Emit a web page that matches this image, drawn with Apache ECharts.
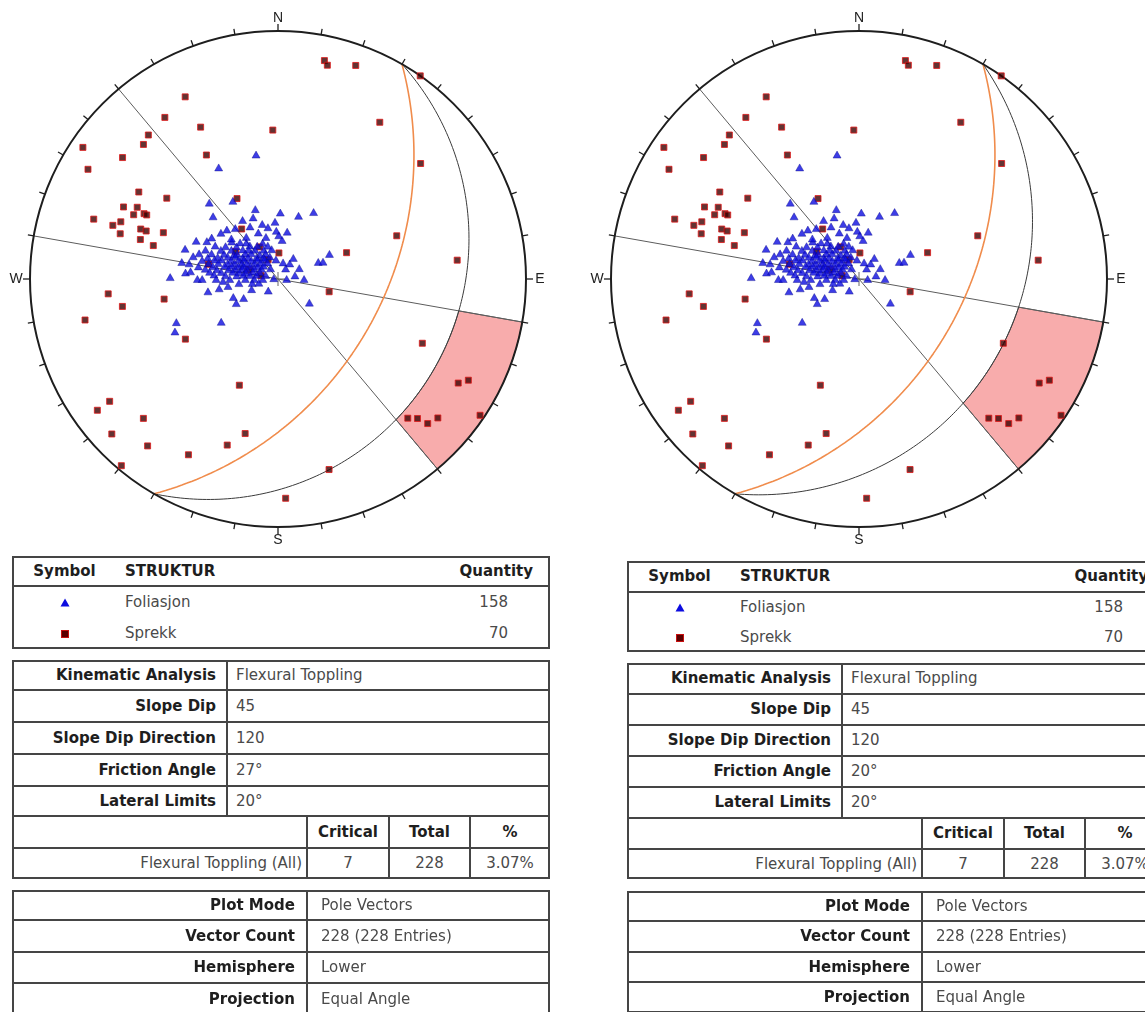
<!DOCTYPE html>
<html>
<head>
<meta charset="utf-8">
<script src="https://cdn.jsdelivr.net/npm/echarts@6/dist/echarts.min.js"></script>
<style>
  html, body { margin: 0; padding: 0; background: #fff; }
  body { position: relative; width: 1145px; height: 1012px; overflow: hidden; }
  #chart { position: absolute; left: 0; top: 0; width: 1145px; height: 1012px; }
  .box { position: absolute; box-sizing: border-box; border: 2px solid #454545; background: #fff; }
  .hl { position: absolute; height: 2px; background: #454545; }
  .vl { position: absolute; width: 2px; background: #454545; }
  .tx { position: absolute; white-space: nowrap; font-family: "DejaVu Sans", sans-serif; font-size: 15px; color: #4a4a4a; }
  .tx.b { font-weight: bold; color: #1e1e1e; }
</style>
</head>
<body>
<div id="chart"></div>
<script>
// Poles (lower hemisphere), [trend°, plunge°]
const foliasjonPoles = [
  [350,36],[332,36],[318,45],[330,50],[342,57],[2,60],[314,50],[338,60],[357,64],[18,60],
  [314,58],[358,68],[11,68],[1,70],[6,72],[302,55],[295,50],[298,54],[288,47],[28,56],
  [64,64],[67,70],[69,68],[271,43],[270,54],[270,56],[260,58],[261,63],[262,67],[248,68],
  [240,68],[241,72],[247,42],[243,40],[233,58],[127,72],[90,86],[281,88],
  [309,63],[314,66],[319,68],[337,72],
  [298,58],[302,62],[308,66],[320,70],[328,72],[343,74],
  [292,55],[297,61],[302,65],[310,69],[315,71],[322,73],[334,75],[348,76],
  [288,53],[291,58],[295,63],[299,67],[302,68],[308,71],[314,73],[323,76],[334,77],
  [285,51],[287,57],[290,61],[294,65],[298,68],[301,71],[306,73],[315,76],[326,78],[340,79],
  [284,55],[287,60],[289,63],[292,67],[296,70],[300,72],[305,75],[314,77],[326,79],[354,81],
  [280,50],[283,58],[285,62],[287,66],[290,69],[293,72],[297,74],[304,77],[313,79],[328,81],[17,82],[37,81],
  [279,54],[281,60],[284,65],[286,68],[288,71],[291,73],[295,76],[302,79],[313,81],
  [278,57],[279,62],[281,67],[283,70],[286,73],[288,75],[294,78],[302,81],[325,84],
  [274,49],[276,59],[277,64],[279,69],[280,72],[282,75],[286,78],[291,81],
  [274,61],[274,66],[275,71],[277,74],[278,77],[281,80],[288,84],[78,82],
  [270,62],[270,68],[270,75],[270,79],[270,83],[90,78],
  [264,72],[261,78],[259,81],
  [309,57],[320,60],[323,66],[337,67],[344,70],[311,62],[332,63],[344,64],[329,59],[349,66],
  [280,47],[275,51],[36,84],[36,78],[63,79],[220,83],[249,77],[268,65]
];
const sprekkPoles = [
  [333,11],[325,13],[333,21],[358,28],[318,14],[315,15],[304,3],[308,13],[330,30],[300,7],
  [302,23],[306,32],[333,50],[295,21],[297,25],[296,28],[296,29],[294,25],[288,14],[290,22],
  [288,20],[290,29],[290,31],[292,37],[286,23],[286,30],[285,35],[324,62],[330,73],[2,78],
  [333,80],[282,58],[12,6],[13,7],[20,5],[35,0],[33,16],[51,17],[70,36],[69,57],
  [84,18],[265,21],[260,25],[260,40],[258,13],[237,42],[200,41],[234,10],[234,6],[224,14],
  [227,5],[192,25],[218,9],[197,20],[207,13],[220,1],[178,7],[104,66],[114,25],[120,10],
  [118,8],[137,15],[135,13],[134,10],[131,9],[124,1],[165,13],[288,76],[303,67],[281,82]
];

const strukturNames = ['Foliasjon', 'Sprekk'];
const strukturCounts = [158, 70];
const slopeDip = 45;
const slopeDipDirection = 120;
const frictionAngles = [27, 20];
const lateralLimits = 20;
const criticalCounts = [7, 7];
const totalCount = 228;
const criticalPercents = ['3.07%', '3.07%'];
const plotInfo = [
  ['Plot Mode', 'Pole Vectors'],
  ['Vector Count', '228 (228 Entries)'],
  ['Hemisphere', 'Lower'],
  ['Projection', 'Equal Angle']
];

const D2R = Math.PI / 180;

// equal-angle (stereographic) projection of a line, lower hemisphere
function project(trend, plunge) {
  const t = trend * D2R, p = plunge * D2R;
  const k = Math.cos(p) / (1 + Math.sin(p));
  return [k * Math.sin(t), k * Math.cos(t)];
}
function apparentDip(dip, dipDir, trend) {
  return Math.atan(Math.tan(dip * D2R) * Math.cos((trend - dipDir) * D2R)) / D2R;
}
function greatCircle(dip, dipDir) {
  const pts = [];
  for (let i = 0; i <= 180; i++) {
    const T = dipDir - 90 + i;
    pts.push(project(T, Math.max(0, apparentDip(dip, dipDir, T))));
  }
  return pts;
}
function criticalZone(slipDip, dipDir, lat) {
  const pts = [];
  for (let T = dipDir - lat; T <= dipDir + lat; T += 1) pts.push(project(T, apparentDip(slipDip, dipDir, T)));
  for (let T = dipDir + lat; T >= dipDir - lat; T -= 1) pts.push(project(T, 0));
  return pts;
}

const chart = echarts.init(document.getElementById('chart'), null, { renderer: 'canvas' });
const R = 248;
const gridLefts = [30, 611];
const grids = [], xAxes = [], yAxes = [], series = [];

gridLefts.forEach((gl, k) => {
  grids.push({ left: gl, top: 31, width: 2 * R, height: 2 * R });
  xAxes.push({ gridIndex: k, type: 'value', min: -1, max: 1, show: false });
  yAxes.push({ gridIndex: k, type: 'value', min: -1, max: 1, show: false });
  const ax = { xAxisIndex: k, yAxisIndex: k };

  // critical zone for flexural toppling
  const zone = criticalZone(slopeDip - frictionAngles[k], slopeDipDirection, lateralLimits);
  series.push(Object.assign({
    type: 'custom', silent: true, z: 1, clip: false, data: [[0, 0]],
    renderItem: (params, api) => ({
      type: 'polygon',
      shape: { points: zone.map(p => api.coord(p)) },
      style: { fill: '#f8acac', stroke: '#5a5a5a', lineWidth: 1 }
    })
  }, ax));

  // lateral limits
  [slopeDipDirection - lateralLimits, slopeDipDirection + lateralLimits].forEach(t => {
    series.push(Object.assign({
      type: 'line', silent: true, z: 2, symbol: 'none', animation: false,
      data: [project(t + 180, 0), project(t, 0)],
      lineStyle: { color: '#5c5c5c', width: 1 }
    }, ax));
  });

  // slip limit plane
  series.push(Object.assign({
    type: 'line', silent: true, z: 2, symbol: 'none', animation: false,
    data: greatCircle(slopeDip - frictionAngles[k], slopeDipDirection),
    lineStyle: { color: '#3a3a3a', width: 1 }
  }, ax));

  // slope plane
  series.push(Object.assign({
    type: 'line', silent: true, z: 3, symbol: 'none', animation: false,
    data: greatCircle(slopeDip, slopeDipDirection),
    lineStyle: { color: '#f08c4c', width: 1.6 }
  }, ax));

  // primitive circle, ticks, cardinal labels and centre cross
  series.push(Object.assign({
    type: 'custom', silent: true, z: 4, clip: false, data: [[0, 0]],
    renderItem: (params, api) => {
      const c = api.coord([0, 0]);
      const r = api.size([1, 1])[0];
      const ch = [{ type: 'circle', shape: { cx: c[0], cy: c[1], r: r },
        style: { fill: 'none', stroke: '#1e1e1e', lineWidth: 2 } }];
      for (let a = 0; a < 360; a += 10) {
        const s = Math.sin(a * D2R), co = Math.cos(a * D2R);
        const len = (a % 90 === 0) ? 7 : 6;
        ch.push({ type: 'line', shape: { x1: c[0] + s * r, y1: c[1] - co * r,
          x2: c[0] + s * (r + len), y2: c[1] - co * (r + len) },
          style: { stroke: '#1e1e1e', lineWidth: 1.3 } });
      }
      [['N', 0], ['E', 90], ['S', 180], ['W', 270]].forEach(([t, a]) => {
        const s = Math.sin(a * D2R), co = Math.cos(a * D2R);
        ch.push({ type: 'text', x: c[0] + s * (r + 14), y: c[1] - co * (r + 13),
          style: { text: t, fill: '#222', font: '14px "Liberation Sans", Arial, sans-serif',
            align: 'center', verticalAlign: 'middle' } });
      });
      ch.push({ type: 'line', shape: { x1: c[0] - 7, y1: c[1], x2: c[0] + 7, y2: c[1] }, style: { stroke: '#666', lineWidth: 1 } });
      ch.push({ type: 'line', shape: { x1: c[0], y1: c[1] - 7, x2: c[0], y2: c[1] + 7 }, style: { stroke: '#666', lineWidth: 1 } });
      return { type: 'group', children: ch };
    }
  }, ax));

  series.push(Object.assign({
    name: strukturNames[1], type: 'scatter', z: 5, symbol: 'rect', symbolSize: 6,
    data: sprekkPoles.map(p => project(p[0], p[1])),
    itemStyle: { color: '#3c0000', borderColor: '#e01818', borderWidth: 1 }
  }, ax));
  series.push(Object.assign({
    name: strukturNames[0], type: 'scatter', z: 6, symbol: 'triangle', symbolSize: [8, 7],
    data: foliasjonPoles.map(p => project(p[0], p[1])),
    itemStyle: { color: '#0c0ce0', borderColor: '#08088a', borderWidth: 0.5 }
  }, ax));
});

chart.setOption({ animation: false, grid: grids, xAxis: xAxes, yAxis: yAxes, series: series });

// ---- information tables ----
function el(cls, css, html) {
  const d = document.createElement('div');
  d.className = cls;
  Object.assign(d.style, css);
  if (html !== undefined) d.innerHTML = html;
  document.body.appendChild(d);
  return d;
}
function text(x0, x1, y0, y1, str, align, bold, pad) {
  const css = { top: y0 + 'px', height: (y1 - y0) + 'px', lineHeight: (y1 - y0) + 'px' };
  if (align === 'left') { css.left = (x0 + pad) + 'px'; }
  else if (align === 'right') { css.right = (1145 - x1 + pad) + 'px'; }
  else { css.left = x0 + 'px'; css.width = (x1 - x0) + 'px'; css.textAlign = 'center'; }
  el('tx' + (bold ? ' b' : ''), css, str);
}
function box(x0, y0, x1, y1) { el('box', { left: x0 + 'px', top: y0 + 'px', width: (x1 - x0) + 'px', height: (y1 - y0) + 'px' }); }
function hline(x0, x1, y) { el('hl', { left: x0 + 'px', width: (x1 - x0) + 'px', top: (y - 1) + 'px' }); }
function vline(x, y0, y1) { el('vl', { left: (x - 1) + 'px', top: y0 + 'px', height: (y1 - y0) + 'px' }); }

const triSvg = '<svg width="10" height="9" style="vertical-align:middle"><polygon points="5,0.5 9.5,8.5 0.5,8.5" fill="#0c0ce0"/></svg>';
const sqSvg = '<svg width="8" height="8" style="vertical-align:middle"><rect x="0.5" y="0.5" width="7" height="7" fill="#5a0000" stroke="#c81010"/></svg>';

// row boundaries of the three tables under each stereonet
const tableRows = [
  { t1: [556, 586, 618, 649], t2: [660, 690, 722, 754, 786, 816, 848, 879], t3: [890, 920, 952, 983, 1015] },
  { t1: [561, 592, 622, 652], t2: [663, 694, 725, 756, 787, 818, 849, 879], t3: [891, 921, 952, 982, 1013] }
];

function drawTables(k, ox) {
  const { t1, t2, t3 } = tableRows[k];
  const X0 = 12 + ox, X1 = 550 + ox, A = 227 + ox, B = 307 + ox, C = 389 + ox, D = 470 + ox;
  // structure summary
  box(X0, t1[0], X1, t1[3]);
  hline(X0, X1, t1[1]);
  text(X0, 117 + ox, t1[0], t1[1], 'Symbol', 'center', true, 0);
  text(X0, X1, t1[0], t1[1], 'STRUKTUR', 'left', true, 113);
  text(X0, X1, t1[0], t1[1], 'Quantity', 'right', true, 17);
  [triSvg, sqSvg].forEach((sym, i) => {
    text(X0, 117 + ox, t1[i + 1], t1[i + 2], sym, 'center', false, 0);
    text(X0, X1, t1[i + 1], t1[i + 2], strukturNames[i], 'left', false, 113);
    text(X0, X1, t1[i + 1], t1[i + 2], String(strukturCounts[i]), 'right', false, 42);
  });

  // kinematic analysis
  box(X0, t2[0], X1, t2[7]);
  for (let i = 1; i < 7; i++) hline(X0, X1, t2[i]);
  vline(A, t2[0], t2[5]);
  vline(B, t2[5], t2[7]);
  vline(C, t2[5], t2[7]);
  vline(D, t2[5], t2[7]);
  const kin = [
    ['Kinematic Analysis', 'Flexural Toppling'],
    ['Slope Dip', String(slopeDip)],
    ['Slope Dip Direction', String(slopeDipDirection)],
    ['Friction Angle', frictionAngles[k] + '°'],
    ['Lateral Limits', lateralLimits + '°']
  ];
  kin.forEach((row, i) => {
    text(X0, A, t2[i], t2[i + 1], row[0], 'right', true, 11);
    text(A, X1, t2[i], t2[i + 1], row[1], 'left', false, 9);
  });
  text(B, C, t2[5], t2[6], 'Critical', 'center', true, 0);
  text(C, D, t2[5], t2[6], 'Total', 'center', true, 0);
  text(D, X1, t2[5], t2[6], '%', 'center', true, 0);
  text(X0, B, t2[6], t2[7], 'Flexural Toppling (All)', 'right', false, 5);
  text(B, C, t2[6], t2[7], String(criticalCounts[k]), 'center', false, 0);
  text(C, D, t2[6], t2[7], String(totalCount), 'center', false, 0);
  text(D, X1, t2[6], t2[7], criticalPercents[k], 'center', false, 0);

  // plot information
  box(X0, t3[0], X1, t3[4]);
  for (let i = 1; i < 4; i++) hline(X0, X1, t3[i]);
  vline(B, t3[0], t3[4]);
  plotInfo.forEach((row, i) => {
    text(X0, B, t3[i], t3[i + 1], row[0], 'right', true, 12);
    text(B, X1, t3[i], t3[i + 1], row[1], 'left', false, 14);
  });
}
drawTables(0, 0);
drawTables(1, 615);
</script>
</body>
</html>
